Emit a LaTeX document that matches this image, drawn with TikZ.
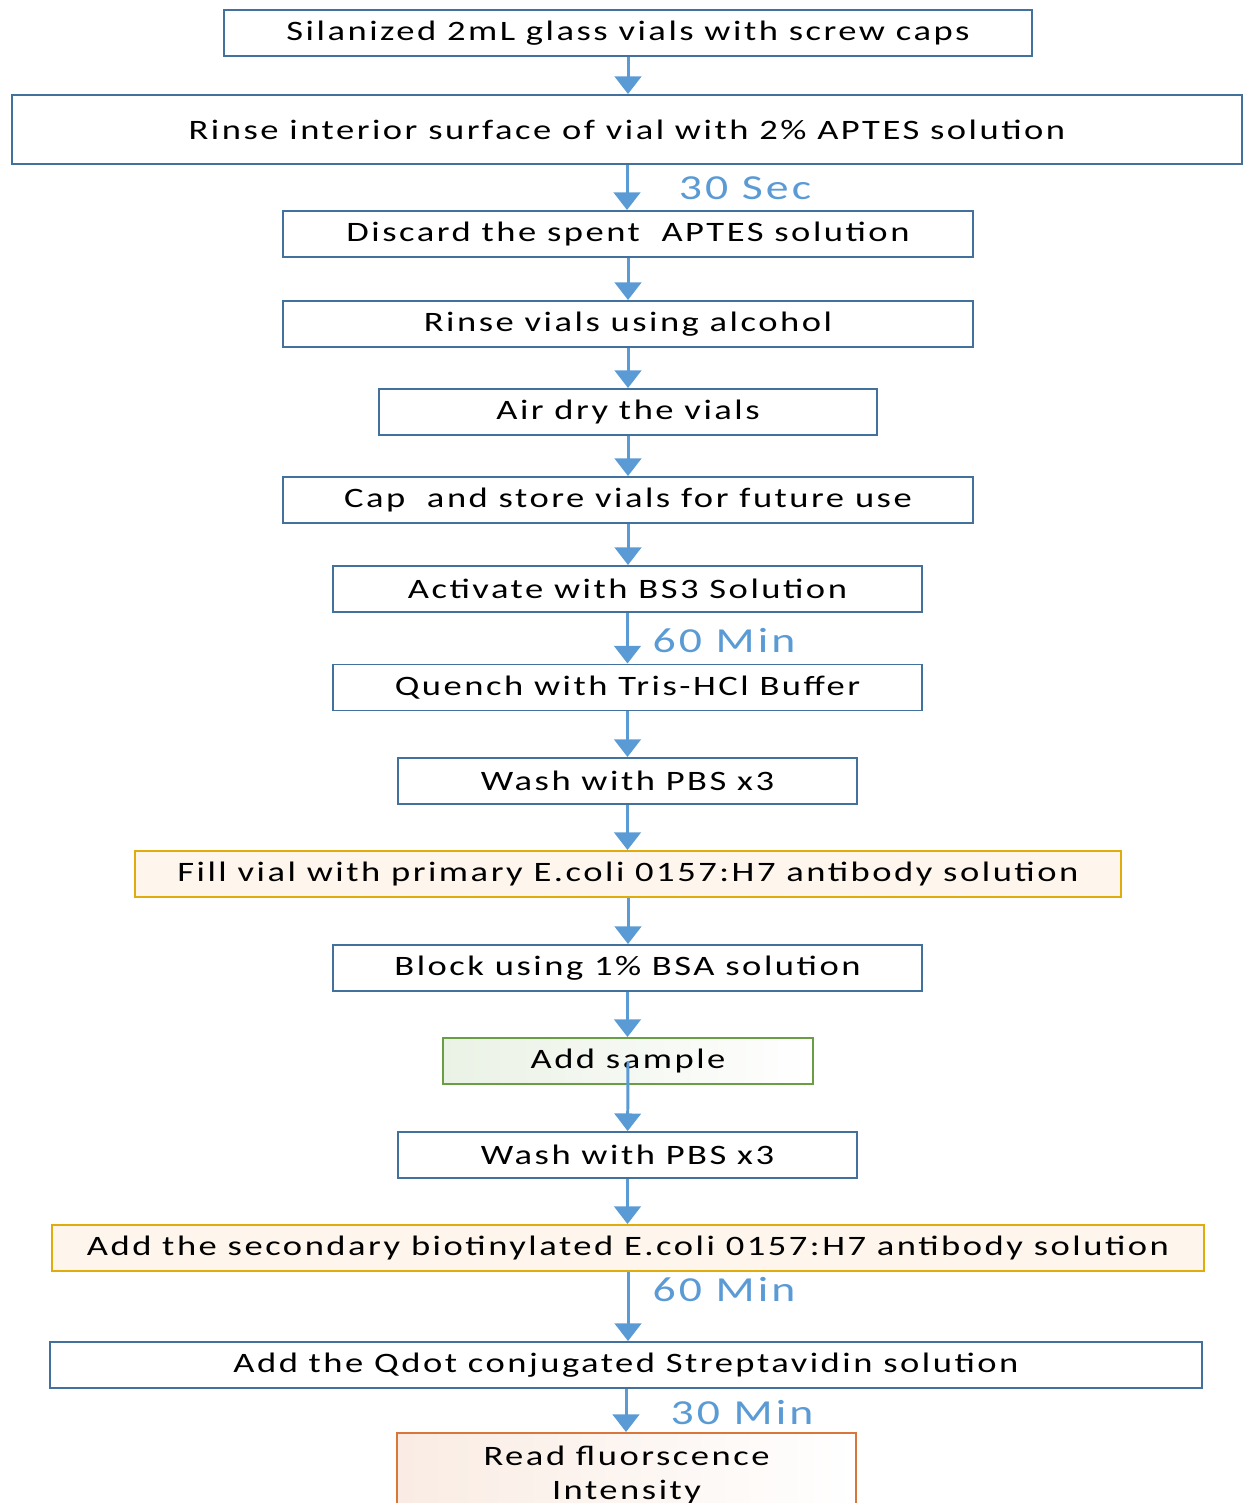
\documentclass[tikz,border=0pt]{standalone}
\usepackage{fontspec}
\setmainfont{Carlito}[FakeStretch=1.3,LetterSpace=9]
\usetikzlibrary{arrows.meta}
\definecolor{boxblue}{HTML}{41719C}
\definecolor{arrowblue}{HTML}{5B9BD5}
\definecolor{boxgold}{HTML}{E0AC0C}
\definecolor{boxgreen}{HTML}{6A9E45}
\definecolor{boxorange}{HTML}{D9763A}
\def\u{0.02cm}
\tikzset{
	stepbox/.style={draw=boxblue,line width=1.1pt,minimum height=46*\u,inner sep=0pt,font=\fontsize{16}{19}\selectfont},
	goldbox/.style={stepbox,draw=boxgold,fill={rgb,255:red,254;green,246;blue,236}},
	greenbox/.style={stepbox,draw=boxgreen,left color=boxgreen!14,right color=white},
	orangebox/.style={stepbox,draw=boxorange,left color=boxorange!14,right color=white,align=center},
	flow/.style={draw=arrowblue,line width=1.7pt,-{Triangle[width=15pt,length=10pt]}},
	timing/.style={text=arrowblue,font=\fontsize{20}{24}\selectfont,inner sep=0pt}
}
\begin{document}
\begin{tikzpicture}[x=\u,y=-\u]
	\useasboundingbox (0,0) rectangle (1244,1503);

	\node[stepbox,minimum width=808*\u] (silane) at (628,33) {Silanized 2mL glass vials with screw caps};
	\node[stepbox,minimum width=1230*\u,minimum height=69*\u] (rinse) at (627,129.5) {Rinse interior surface of vial with 2\% APTES solution};
	\node[stepbox,minimum width=690*\u] (discard) at (628,234) {Discard the spent\ \ APTES solution};
	\node[stepbox,minimum width=690*\u] (alcohol) at (628,324) {Rinse vials using alcohol};
	\node[stepbox,minimum width=498*\u] (airdry) at (628,412) {Air dry the vials};
	\node[stepbox,minimum width=690*\u] (store) at (628,500) {Cap\ \ and store vials for future use};
	\node[stepbox,minimum width=589*\u] (activate) at (627.5,589) {Activate with BS3 Solution};
	\node[stepbox,minimum width=589*\u] (quench) at (627.5,687.5) {Quench with Tris-HCl Buffer};
	\node[stepbox,minimum width=459*\u] (washa) at (627.5,781) {Wash with PBS x3};
	\node[goldbox,minimum width=986*\u] (primary) at (628,874) {Fill vial with primary E.coli 0157:H7 antibody solution};
	\node[stepbox,minimum width=589*\u] (block) at (627.5,968) {Block using 1\% BSA solution};
	\node[greenbox,minimum width=370*\u] (sample) at (628,1061) {Add sample};
	\node[stepbox,minimum width=459*\u] (washb) at (627.5,1155) {Wash with PBS x3};
	\node[goldbox,minimum width=1152*\u] (secondary) at (628,1248) {Add the secondary biotinylated E.coli 0157:H7 antibody solution};
	\node[stepbox,minimum width=1152*\u] (qdot) at (626,1365) {Add the Qdot conjugated Streptavidin solution};
	\node[orangebox,minimum width=459*\u,minimum height=84*\u] (read) at (626.5,1475) {Read fluorscence\\[0pt]Intensity};

	% times
	\node[timing] (t30s) at (745,188) {30 Sec};
	\node[timing] (t60a) at (724,641) {60 Min};
	\node[timing] (t60b) at (724,1290) {60 Min};
	\node[timing] (t30m) at (742,1413) {30 Min};

	\foreach \a/\b in {silane/rinse,rinse/discard,discard/alcohol,alcohol/airdry,airdry/store,store/activate,activate/quench,quench/washa,washa/primary,primary/block,block/sample,washb/secondary,secondary/qdot,qdot/read}
		\draw[flow] (\a) -- (\a |- \b.north);
	\draw[flow] (sample.center) -- (washb);
\end{tikzpicture}
\end{document}
